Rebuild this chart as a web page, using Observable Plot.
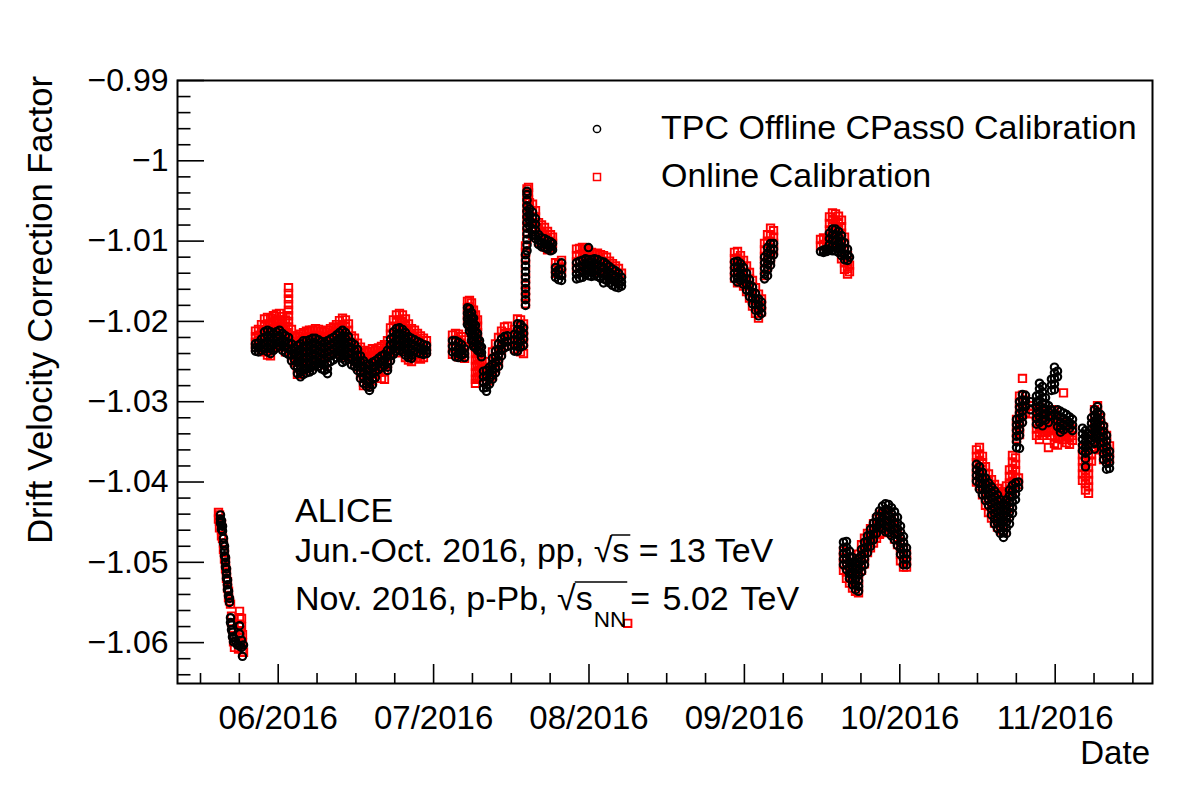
<!DOCTYPE html>
<html><head><meta charset="utf-8">
<script src="https://cdn.jsdelivr.net/npm/d3@7"></script>
<script src="https://cdn.jsdelivr.net/npm/@observablehq/plot@0.6"></script>
<style>html,body{margin:0;padding:0;background:#fff;overflow:hidden}</style>
</head><body>
<script>
// ---- axis ticks (x in days since 2016-05-01) ----
const xMajor = [31, 61.5, 92, 122.5, 153, 183.5];
const xLabels = ["06/2016", "07/2016", "08/2016", "09/2016", "10/2016", "11/2016"];
const xMinor = [15.75, 23.375, 38.625, 46.25, 53.875, 69.125, 76.75, 84.375, 99.625, 107.25, 114.875,
  130.125, 137.75, 145.375, 160.625, 168.25, 175.875, 191.125, 198.75];
const yMajor = [-1.06, -1.05, -1.04, -1.03, -1.02, -1.01, -1.0, -0.99];
const yLabels = ["\u22121.06", "\u22121.05", "\u22121.04", "\u22121.03", "\u22121.02", "\u22121.01", "\u22121", "\u22120.99"];
const yMinor = [-1.064, -1.062, -1.058, -1.056, -1.054, -1.052, -1.048, -1.046, -1.044, -1.042, -1.038, -1.036,
  -1.034, -1.032, -1.028, -1.026, -1.024, -1.022, -1.018, -1.016, -1.014, -1.012, -1.008, -1.006, -1.004, -1.002,
  -0.998, -0.996, -0.994, -0.992];

// ---- TPC Offline CPass0 calibration: [day, [values of the runs of that day]] ----
const offMay = [[19.67,[-1.0441,-1.0446,-1.0451]],[19.87,[-1.0448,-1.0454,-1.0459]],[20.07,[-1.0455,-1.0461]],
  [20.26,[-1.0470,-1.0476]],[20.46,[-1.0480,-1.0486,-1.0492]],[20.66,[-1.0494,-1.0500,-1.0506]],
  [20.85,[-1.0508,-1.0514,-1.0520]],[21.05,[-1.0522,-1.0528,-1.0534]],[21.25,[-1.0536,-1.0542]],[21.44,[-1.0545,-1.0550]],
  [21.64,[-1.0569,-1.0575]],[21.84,[-1.0578,-1.0584]],[22.03,[-1.0587,-1.0593]],[22.23,[-1.0594,-1.0599]],
  [22.62,[-1.0598]],[23.01,[-1.0603]],[23.41,[-1.0579,-1.0589,-1.0604]],[23.80,[-1.0597,-1.0606]],[23.99,[-1.0617]],
  [24.19,[-1.0603]]];
const offJun = [
  [26.54,[-1.0228,-1.0233,-1.0237]],[27.13,[-1.0227,-1.0233,-1.0238]],[27.72,[-1.0222,-1.0229,-1.0236]],
  [28.31,[-1.0213,-1.0220,-1.0227,-1.0234]],[28.90,[-1.0211,-1.0218,-1.0225,-1.0232,-1.0238]],
  [29.49,[-1.0213,-1.0220,-1.0227,-1.0234,-1.0240]],[30.07,[-1.0215,-1.0222,-1.0229,-1.0236]],
  [30.66,[-1.0213,-1.0220,-1.0227,-1.0233]],[31.25,[-1.0211,-1.0218,-1.0225,-1.0231]],
  [31.84,[-1.0215,-1.0222,-1.0229,-1.0236]],[32.43,[-1.0218,-1.0225,-1.0232,-1.0239]],
  [33.02,[-1.0220,-1.0227,-1.0234,-1.0241]],[33.61,[-1.0228,-1.0235,-1.0242,-1.0249]],
  [34.20,[-1.0234,-1.0241,-1.0248,-1.0255]],[34.78,[-1.0230,-1.0237,-1.0244,-1.0251,-1.0258,-1.0265]],
  [35.37,[-1.0228,-1.0235,-1.0242,-1.0249,-1.0256,-1.0263,-1.0269]],
  [35.96,[-1.0224,-1.0231,-1.0238,-1.0245,-1.0252,-1.0259,-1.0266]],
  [36.55,[-1.0224,-1.0231,-1.0238,-1.0245,-1.0252,-1.0259,-1.0264]],
  [37.14,[-1.0223,-1.0230,-1.0237,-1.0244,-1.0251,-1.0258,-1.0263]],
  [37.73,[-1.0221,-1.0228,-1.0235,-1.0242,-1.0249,-1.0256,-1.0261]],
  [38.32,[-1.0221,-1.0228,-1.0235,-1.0242,-1.0249,-1.0255]],[38.90,[-1.0223,-1.0230,-1.0237,-1.0244,-1.0251,-1.0256]],
  [39.49,[-1.0225,-1.0232,-1.0239,-1.0246,-1.0253,-1.0259]],[40.08,[-1.0226,-1.0233,-1.0240,-1.0247,-1.0254,-1.0261]],
  [40.67,[-1.0224,-1.0231,-1.0238,-1.0245,-1.0252,-1.0259,-1.0265]],[41.26,[-1.0222,-1.0229,-1.0236,-1.0243,-1.0250]],
  [41.85,[-1.0220,-1.0227,-1.0234,-1.0241,-1.0248]],[42.44,[-1.0217,-1.0224,-1.0231,-1.0238,-1.0245]],
  [43.03,[-1.0214,-1.0221,-1.0228,-1.0235,-1.0242]],[43.62,[-1.0211,-1.0218,-1.0225,-1.0232,-1.0239,-1.0246,-1.0251]],
  [44.20,[-1.0214,-1.0221,-1.0228,-1.0235,-1.0242,-1.0249]],[44.79,[-1.0219,-1.0226,-1.0233,-1.0240,-1.0247]],
  [45.38,[-1.0226,-1.0233,-1.0240,-1.0247,-1.0254]],[45.97,[-1.0229,-1.0236,-1.0243,-1.0250,-1.0256]],
  [46.56,[-1.0235,-1.0242,-1.0249,-1.0256,-1.0261]],[47.15,[-1.0243,-1.0250,-1.0257,-1.0264,-1.0271]],
  [47.74,[-1.0249,-1.0256,-1.0263,-1.0270,-1.0277]],[48.33,[-1.0253,-1.0260,-1.0267,-1.0274,-1.0281]],
  [48.91,[-1.0254,-1.0261,-1.0268,-1.0275,-1.0282,-1.0286]],[49.50,[-1.0251,-1.0258,-1.0265,-1.0272,-1.0279]],
  [50.09,[-1.0249,-1.0256,-1.0263,-1.0270]],[50.68,[-1.0246,-1.0253,-1.0260]],[51.27,[-1.0243,-1.0250,-1.0257]],
  [51.86,[-1.0241,-1.0248,-1.0255]],[52.45,[-1.0236,-1.0243,-1.0250,-1.0257,-1.0261]],
  [53.04,[-1.0222,-1.0229,-1.0236,-1.0243,-1.0249]],[53.62,[-1.0213,-1.0220,-1.0227,-1.0234,-1.0241]],
  [54.21,[-1.0209,-1.0216,-1.0223,-1.0230,-1.0237]],[54.80,[-1.0208,-1.0215,-1.0222,-1.0229,-1.0236]],
  [55.39,[-1.0210,-1.0217,-1.0224,-1.0231,-1.0238]],[55.98,[-1.0214,-1.0221,-1.0228,-1.0235,-1.0242]],
  [56.57,[-1.0219,-1.0226,-1.0233,-1.0240,-1.0245]],[57.16,[-1.0221,-1.0228,-1.0235,-1.0242,-1.0246]],
  [57.75,[-1.0223,-1.0230,-1.0237]],[58.34,[-1.0225,-1.0232,-1.0239]],[58.92,[-1.0227,-1.0234,-1.0240]],
  [59.51,[-1.0229,-1.0235,-1.0241]],[60.10,[-1.0230,-1.0236,-1.0240]]];
const offJul = [
  [65.21,[-1.0224,-1.0231,-1.0238]],[65.80,[-1.0224,-1.0231,-1.0238,-1.0244]],[66.39,[-1.0226,-1.0233,-1.0240,-1.0245]],
  [66.98,[-1.0229,-1.0236,-1.0242]],[67.57,[-1.0234,-1.0240,-1.0245]],
  [68.15,[-1.0183,-1.0190,-1.0197,-1.0204]],[68.54,[-1.0184,-1.0191,-1.0198,-1.0205,-1.0212]],
  [68.94,[-1.0189,-1.0196,-1.0203,-1.0210,-1.0217,-1.0224]],[69.33,[-1.0196,-1.0203,-1.0210,-1.0217,-1.0224,-1.0231]],
  [69.72,[-1.0205,-1.0212,-1.0219,-1.0226,-1.0233]],[70.12,[-1.0215,-1.0222,-1.0229,-1.0236]],
  [70.51,[-1.0224,-1.0231,-1.0238]],[70.90,[-1.0232,-1.0239,-1.0244]],
  [71.29,[-1.0262,-1.0269,-1.0276,-1.0283]],[71.88,[-1.0261,-1.0268,-1.0275,-1.0282,-1.0287]],
  [72.47,[-1.0257,-1.0264,-1.0271,-1.0278]],[73.06,[-1.0246,-1.0253,-1.0260,-1.0267,-1.0272]],
  [73.65,[-1.0237,-1.0244,-1.0251,-1.0258,-1.0264]],[74.24,[-1.0228,-1.0235,-1.0242,-1.0249,-1.0256]],
  [74.83,[-1.0222,-1.0229,-1.0236,-1.0243]],[75.42,[-1.0219,-1.0226,-1.0233]],[76.01,[-1.0218,-1.0225,-1.0231]],
  [77.38,[-1.0216,-1.0223,-1.0230,-1.0237]],[77.97,[-1.0203,-1.0210,-1.0217,-1.0224,-1.0231,-1.0237]],
  [78.56,[-1.0204,-1.0211,-1.0218,-1.0225,-1.0232]],[79.15,[-1.0208,-1.0215,-1.0222,-1.0230]],
  [79.54,[-1.0180,-1.0173,-1.0166,-1.0159,-1.0152,-1.0145,-1.0138,-1.0131,-1.0124,-1.0117]],
  [79.83,[-1.0112,-1.0105,-1.0098,-1.0091,-1.0084,-1.0077,-1.0070,-1.0063,-1.0056,-1.0049,-1.0042,-1.0038]],
  [80.32,[-1.0060,-1.0067,-1.0074,-1.0081]],[80.92,[-1.0064,-1.0071,-1.0078,-1.0085,-1.0092]],
  [81.50,[-1.0072,-1.0079,-1.0086,-1.0093,-1.0097]],[82.09,[-1.0092,-1.0099,-1.0104]],[82.68,[-1.0096,-1.0103,-1.0107]],
  [83.27,[-1.0097,-1.0104,-1.0108]],[83.86,[-1.0099,-1.0105,-1.0110]],[84.44,[-1.0101,-1.0107,-1.0112]],
  [84.84,[-1.0103,-1.0111]],[85.43,[-1.0133,-1.0139,-1.0145]],[86.02,[-1.0136,-1.0142,-1.0148]],
  [86.61,[-1.0127,-1.0135,-1.0143,-1.0149]]];
const offAug = [
  [89.55,[-1.0127,-1.0134,-1.0141,-1.0147]],[90.14,[-1.0125,-1.0132,-1.0139,-1.0146]],
  [90.72,[-1.0124,-1.0131,-1.0138,-1.0145]],[91.31,[-1.0122,-1.0129,-1.0136,-1.0142]],
  [91.90,[-1.0108,-1.0123,-1.0130,-1.0137,-1.0143]],[92.49,[-1.0123,-1.0130,-1.0137,-1.0144]],
  [93.08,[-1.0122,-1.0129,-1.0136,-1.0143]],[93.67,[-1.0123,-1.0130,-1.0137,-1.0144]],
  [94.26,[-1.0125,-1.0132,-1.0139,-1.0146]],[94.85,[-1.0126,-1.0133,-1.0140,-1.0147,-1.0152]],
  [95.44,[-1.0129,-1.0136,-1.0143,-1.0149]],[96.03,[-1.0132,-1.0139,-1.0146,-1.0152]],
  [96.61,[-1.0135,-1.0142,-1.0149,-1.0155]],[97.20,[-1.0137,-1.0144,-1.0151,-1.0157]],
  [97.79,[-1.0140,-1.0147,-1.0154,-1.0158]],[98.38,[-1.0145,-1.0151,-1.0156]]];
const offSep = [
  [120.56,[-1.0126,-1.0133,-1.0140,-1.0147]],[121.15,[-1.0125,-1.0132,-1.0139,-1.0146,-1.0151]],
  [121.74,[-1.0128,-1.0135,-1.0142,-1.0149]],[122.33,[-1.0133,-1.0140,-1.0147,-1.0154]],
  [122.92,[-1.0140,-1.0147,-1.0154,-1.0161]],[123.50,[-1.0148,-1.0155,-1.0162,-1.0169]],
  [124.09,[-1.0157,-1.0164,-1.0171,-1.0178]],[124.68,[-1.0165,-1.0172,-1.0179,-1.0186]],
  [125.27,[-1.0172,-1.0179,-1.0186,-1.0193]],[125.86,[-1.0176,-1.0183,-1.0190]],
  [126.45,[-1.0120,-1.0127,-1.0134,-1.0141,-1.0147]],[127.04,[-1.0108,-1.0115,-1.0122,-1.0129,-1.0136,-1.0143]],
  [127.63,[-1.0103,-1.0110,-1.0117,-1.0124,-1.0130]],[128.22,[-1.0103,-1.0110,-1.0117]],
  [137.44,[-1.0113]],[138.03,[-1.0111,-1.0114]],[138.62,[-1.0110,-1.0113]],[139.20,[-1.0090,-1.0097,-1.0104,-1.0111]],
  [139.79,[-1.0085,-1.0092,-1.0099,-1.0106,-1.0112]],[140.38,[-1.0085,-1.0092,-1.0099,-1.0106,-1.0112]],
  [140.97,[-1.0088,-1.0095,-1.0102,-1.0109,-1.0114]],[141.56,[-1.0093,-1.0100,-1.0107,-1.0114,-1.0118]],
  [142.15,[-1.0102,-1.0109,-1.0116,-1.0123]],[142.74,[-1.0110,-1.0117,-1.0124]],[143.13,[-1.0120]]];
const offOct = [
  [141.95,[-1.0475,-1.0482,-1.0489,-1.0496,-1.0503]],[142.54,[-1.0474,-1.0481,-1.0488,-1.0495,-1.0502,-1.0509]],
  [143.13,[-1.0486,-1.0493,-1.0500,-1.0507,-1.0514,-1.0520]],[143.72,[-1.0494,-1.0501,-1.0508,-1.0515,-1.0522,-1.0528]],
  [144.31,[-1.0500,-1.0507,-1.0514,-1.0521,-1.0528,-1.0534]],
  [144.90,[-1.0495,-1.0502,-1.0509,-1.0516,-1.0523,-1.0530,-1.0536]],
  [145.49,[-1.0484,-1.0491,-1.0498,-1.0505,-1.0512]],[146.07,[-1.0475,-1.0482,-1.0489,-1.0496,-1.0503]],
  [146.66,[-1.0467,-1.0474,-1.0481,-1.0488]],[147.25,[-1.0459,-1.0466,-1.0473,-1.0480]],
  [147.84,[-1.0451,-1.0458,-1.0465,-1.0472]],[148.43,[-1.0443,-1.0450,-1.0457,-1.0464]],
  [149.02,[-1.0436,-1.0443,-1.0450,-1.0457]],[149.61,[-1.0430,-1.0437,-1.0444,-1.0451,-1.0458]],
  [150.20,[-1.0427,-1.0434,-1.0441,-1.0448,-1.0455,-1.0462]],[150.79,[-1.0428,-1.0435,-1.0442,-1.0449,-1.0456,-1.0463]],
  [151.37,[-1.0432,-1.0439,-1.0446,-1.0453,-1.0460,-1.0467]],[151.96,[-1.0437,-1.0444,-1.0451,-1.0458,-1.0465,-1.0472]],
  [152.55,[-1.0444,-1.0451,-1.0458,-1.0465,-1.0472,-1.0479]],[153.14,[-1.0455,-1.0462,-1.0469,-1.0476,-1.0483,-1.0490]],
  [153.73,[-1.0468,-1.0475,-1.0482,-1.0489,-1.0496,-1.0503]],[154.32,[-1.0482,-1.0489,-1.0496,-1.0503]],
  [168.05,[-1.0378,-1.0385,-1.0392,-1.0399]],[168.64,[-1.0381,-1.0388,-1.0395,-1.0402,-1.0409]],
  [169.23,[-1.0388,-1.0395,-1.0402,-1.0409,-1.0416]],[169.82,[-1.0395,-1.0402,-1.0409,-1.0416,-1.0423]],
  [170.41,[-1.0401,-1.0408,-1.0415,-1.0422,-1.0429]],[171.00,[-1.0406,-1.0413,-1.0420,-1.0427,-1.0434,-1.0441]],
  [171.59,[-1.0411,-1.0418,-1.0425,-1.0432,-1.0439,-1.0446,-1.0452]],
  [172.17,[-1.0416,-1.0423,-1.0430,-1.0437,-1.0444,-1.0451,-1.0458]],
  [172.76,[-1.0422,-1.0429,-1.0436,-1.0443,-1.0450,-1.0457,-1.0464]],
  [173.35,[-1.0428,-1.0435,-1.0442,-1.0449,-1.0456,-1.0463,-1.0469]],
  [173.94,[-1.0422,-1.0429,-1.0436,-1.0443,-1.0450,-1.0457,-1.0464]],
  [174.53,[-1.0410,-1.0417,-1.0424,-1.0431,-1.0438,-1.0445,-1.0452]],
  [175.12,[-1.0404,-1.0411,-1.0418,-1.0425,-1.0432,-1.0439]],[175.71,[-1.0401,-1.0408,-1.0415,-1.0422]],
  [176.30,[-1.0400,-1.0407]]];
const offNov = [
  [175.91,[-1.0322,-1.0329,-1.0336,-1.0343,-1.0350,-1.0357]],
  [176.50,[-1.0300,-1.0307,-1.0314,-1.0321,-1.0328,-1.0335,-1.0342,-1.0358]],
  [177.08,[-1.0291,-1.0298,-1.0305,-1.0312,-1.0319,-1.0326]],[177.67,[-1.0292,-1.0299,-1.0306]],
  [178.65,[-1.0300,-1.0310]],[179.83,[-1.0293,-1.0300,-1.0307,-1.0314,-1.0321,-1.0328]],
  [180.42,[-1.0277,-1.0284,-1.0291,-1.0298,-1.0305,-1.0312,-1.0319,-1.0326]],
  [181.01,[-1.0281,-1.0288,-1.0295,-1.0302,-1.0309,-1.0316,-1.0323,-1.0330]],
  [181.60,[-1.0295,-1.0302,-1.0309,-1.0316,-1.0323]],[182.18,[-1.0305,-1.0312,-1.0319,-1.0326]],
  [182.77,[-1.0272,-1.0279,-1.0286,-1.0310,-1.0317]],[183.36,[-1.0257,-1.0264,-1.0271,-1.0278,-1.0285]],
  [183.95,[-1.0262,-1.0269,-1.0310,-1.0317,-1.0324,-1.0331]],[184.54,[-1.0312,-1.0319,-1.0326,-1.0333,-1.0338]],
  [185.13,[-1.0314,-1.0321,-1.0328,-1.0335]],[185.72,[-1.0316,-1.0323,-1.0330]],[186.31,[-1.0319,-1.0326,-1.0333]],
  [186.90,[-1.0322,-1.0329,-1.0336]],
  [188.86,[-1.0333,-1.0340,-1.0347,-1.0354,-1.0361]],[189.45,[-1.0336,-1.0343,-1.0350,-1.0357,-1.0364,-1.0371,-1.0381]],
  [190.04,[-1.0340,-1.0347,-1.0354,-1.0361]],[190.63,[-1.0320,-1.0327,-1.0334,-1.0341,-1.0348]],
  [191.22,[-1.0310,-1.0317,-1.0324,-1.0331,-1.0338,-1.0345,-1.0352,-1.0359]],
  [191.81,[-1.0306,-1.0313,-1.0320,-1.0327,-1.0334,-1.0341]],[192.40,[-1.0316,-1.0323,-1.0330,-1.0337,-1.0344,-1.0351]],
  [192.99,[-1.0330,-1.0337,-1.0344,-1.0351,-1.0358,-1.0365,-1.0372]],
  [193.58,[-1.0342,-1.0349,-1.0356,-1.0363,-1.0370,-1.0377,-1.0384]],[194.16,[-1.0362,-1.0369,-1.0376,-1.0383]]];

// ---- Online calibration: [day, [values of the runs of that day]] ----
const onMay = [[19.28,[-1.0438,-1.0446]],[19.48,[-1.0441,-1.0449,-1.0457]],[19.87,[-1.0452,-1.0460,-1.0467]],
  [20.07,[-1.0470]],[20.26,[-1.0476,-1.0484]],[20.46,[-1.0488,-1.0496]],[20.66,[-1.0500,-1.0508]],
  [20.85,[-1.0512,-1.0520]],[21.05,[-1.0524,-1.0532]],[21.25,[-1.0536,-1.0544]],[21.44,[-1.0548]],[21.64,[-1.0552]],
  [21.84,[-1.0567,-1.0575]],[22.03,[-1.0583]],[22.23,[-1.0591,-1.0599]],[22.42,[-1.0606]],[23.21,[-1.0608]],
  [23.41,[-1.0561,-1.0569,-1.0577]],[23.60,[-1.0585,-1.0593,-1.0601]],[23.80,[-1.0570,-1.0580]],
  [23.99,[-1.0590,-1.0600,-1.0609]],[24.19,[-1.0612]]];
const onJun = [
  [26.54,[-1.0212,-1.0219,-1.0226,-1.0232]],[27.13,[-1.0210,-1.0217,-1.0224,-1.0231]],
  [27.72,[-1.0204,-1.0212,-1.0220,-1.0228,-1.0236]],[28.31,[-1.0197,-1.0205,-1.0213,-1.0221,-1.0229,-1.0238]],
  [28.90,[-1.0195,-1.0203,-1.0211,-1.0219,-1.0227,-1.0235,-1.0242]],
  [29.49,[-1.0196,-1.0204,-1.0212,-1.0220,-1.0228,-1.0236,-1.0243]],
  [30.07,[-1.0193,-1.0201,-1.0209,-1.0217,-1.0225,-1.0233]],[30.66,[-1.0191,-1.0199,-1.0207,-1.0215,-1.0223,-1.0231]],
  [31.25,[-1.0190,-1.0198,-1.0206,-1.0214,-1.0222]],[31.84,[-1.0194,-1.0202,-1.0210,-1.0218,-1.0226,-1.0232]],
  [32.43,[-1.0198,-1.0206,-1.0214,-1.0222,-1.0230,-1.0238]],
  [33.02,[-1.0158,-1.0165,-1.0172,-1.0179,-1.0186,-1.0193,-1.0200,-1.0207,-1.0214,-1.0221,-1.0228,-1.0236]],
  [33.61,[-1.0210,-1.0218,-1.0226,-1.0234,-1.0242]],[34.20,[-1.0220,-1.0228,-1.0236,-1.0244,-1.0251]],
  [34.78,[-1.0218,-1.0226,-1.0234,-1.0242,-1.0250,-1.0258,-1.0266]],
  [35.37,[-1.0216,-1.0224,-1.0232,-1.0240,-1.0248,-1.0256,-1.0264]],
  [35.96,[-1.0214,-1.0222,-1.0230,-1.0238,-1.0246,-1.0254,-1.0261]],
  [36.55,[-1.0212,-1.0220,-1.0228,-1.0236,-1.0244,-1.0252,-1.0259]],
  [37.14,[-1.0211,-1.0219,-1.0227,-1.0235,-1.0243,-1.0251,-1.0257]],
  [37.73,[-1.0211,-1.0219,-1.0227,-1.0235,-1.0243,-1.0251,-1.0255]],
  [38.32,[-1.0209,-1.0217,-1.0225,-1.0233,-1.0241,-1.0249]],[38.90,[-1.0210,-1.0218,-1.0226,-1.0234,-1.0242,-1.0250]],
  [39.49,[-1.0212,-1.0220,-1.0228,-1.0236,-1.0244,-1.0252]],[40.08,[-1.0213,-1.0221,-1.0229,-1.0237,-1.0245,-1.0254]],
  [40.67,[-1.0211,-1.0219,-1.0227,-1.0235,-1.0242]],[41.26,[-1.0209,-1.0217,-1.0225,-1.0233,-1.0240]],
  [41.85,[-1.0207,-1.0215,-1.0223,-1.0231,-1.0237]],[42.44,[-1.0204,-1.0212,-1.0220,-1.0228,-1.0235]],
  [43.03,[-1.0199,-1.0207,-1.0215,-1.0223,-1.0231,-1.0240]],[43.62,[-1.0196,-1.0204,-1.0212,-1.0220,-1.0228,-1.0236,-1.0242]],
  [44.20,[-1.0198,-1.0206,-1.0214,-1.0222,-1.0230,-1.0238,-1.0245]],[44.79,[-1.0203,-1.0211,-1.0219,-1.0227,-1.0235,-1.0243]],
  [45.38,[-1.0218,-1.0226,-1.0234,-1.0242,-1.0247]],[45.97,[-1.0221,-1.0229,-1.0237,-1.0245,-1.0249]],
  [46.56,[-1.0227,-1.0235,-1.0243,-1.0251,-1.0257]],[47.15,[-1.0232,-1.0240,-1.0248,-1.0256,-1.0264]],
  [47.74,[-1.0236,-1.0244,-1.0252,-1.0260,-1.0268,-1.0276,-1.0280]],[48.33,[-1.0238,-1.0246,-1.0254,-1.0262,-1.0270,-1.0278]],
  [48.91,[-1.0237,-1.0245,-1.0253,-1.0261,-1.0269,-1.0277,-1.0281]],[49.50,[-1.0234,-1.0242,-1.0250,-1.0258,-1.0266,-1.0274]],
  [50.09,[-1.0236,-1.0244,-1.0252,-1.0260,-1.0266]],[50.68,[-1.0233,-1.0241,-1.0249,-1.0257,-1.0263]],
  [51.27,[-1.0231,-1.0239,-1.0247,-1.0255,-1.0263,-1.0271]],[51.86,[-1.0229,-1.0237,-1.0245,-1.0253,-1.0261,-1.0272]],
  [52.45,[-1.0224,-1.0232,-1.0240,-1.0248,-1.0254]],[53.04,[-1.0208,-1.0216,-1.0224,-1.0232,-1.0238]],
  [53.62,[-1.0198,-1.0206,-1.0214,-1.0222,-1.0230,-1.0238]],[54.21,[-1.0192,-1.0200,-1.0208,-1.0216,-1.0224,-1.0232,-1.0239]],
  [54.80,[-1.0190,-1.0198,-1.0206,-1.0214,-1.0222,-1.0230,-1.0234]],[55.39,[-1.0192,-1.0200,-1.0208,-1.0216,-1.0224]],
  [55.98,[-1.0197,-1.0205,-1.0213,-1.0221,-1.0229,-1.0237,-1.0245]],
  [56.57,[-1.0203,-1.0211,-1.0219,-1.0227,-1.0235,-1.0243,-1.0248]],
  [57.16,[-1.0209,-1.0217,-1.0225,-1.0233,-1.0241,-1.0250]],[57.75,[-1.0211,-1.0219,-1.0227,-1.0235,-1.0241]],
  [58.34,[-1.0215,-1.0223,-1.0231,-1.0239,-1.0245]],[58.92,[-1.0218,-1.0226,-1.0234,-1.0242,-1.0247]],
  [59.51,[-1.0221,-1.0229,-1.0237,-1.0245]],[60.10,[-1.0224,-1.0231,-1.0237]]];
const onJul = [
  [65.21,[-1.0217,-1.0225,-1.0233,-1.0241]],[65.80,[-1.0215,-1.0223,-1.0231,-1.0239]],
  [66.39,[-1.0216,-1.0224,-1.0232,-1.0240,-1.0244]],[66.98,[-1.0219,-1.0227,-1.0235,-1.0243]],
  [67.57,[-1.0223,-1.0231,-1.0239,-1.0246]],[68.15,[-1.0175,-1.0183,-1.0191,-1.0199]],
  [68.54,[-1.0174,-1.0182,-1.0190,-1.0198,-1.0206]],[68.94,[-1.0177,-1.0185,-1.0193,-1.0201,-1.0209,-1.0214]],
  [69.33,[-1.0186,-1.0194,-1.0202,-1.0210,-1.0218,-1.0226]],
  [69.72,[-1.0192,-1.0200,-1.0208,-1.0216,-1.0224,-1.0232,-1.0240,-1.0248,-1.0256,-1.0264,-1.0272,-1.0277]],
  [70.12,[-1.0198,-1.0206,-1.0214,-1.0222,-1.0230,-1.0238,-1.0246,-1.0254,-1.0262,-1.0270]],
  [70.51,[-1.0245,-1.0253,-1.0261,-1.0269]],[70.90,[-1.0250,-1.0258,-1.0266]],
  [71.29,[-1.0260,-1.0268,-1.0276]],[71.88,[-1.0257,-1.0265,-1.0273]],[72.47,[-1.0250,-1.0258,-1.0266,-1.0274]],
  [73.06,[-1.0238,-1.0246,-1.0254,-1.0262,-1.0268]],[73.65,[-1.0228,-1.0236,-1.0244,-1.0252,-1.0258]],
  [74.24,[-1.0220,-1.0228,-1.0236,-1.0244,-1.0250]],[74.83,[-1.0212,-1.0220,-1.0228,-1.0236]],
  [75.42,[-1.0207,-1.0215,-1.0223,-1.0231]],[76.01,[-1.0206,-1.0214,-1.0222]],
  [77.38,[-1.0210,-1.0218,-1.0226,-1.0234]],[77.97,[-1.0197,-1.0205,-1.0213,-1.0221,-1.0229,-1.0235]],
  [78.56,[-1.0198,-1.0206,-1.0214,-1.0222,-1.0230,-1.0238]],[79.15,[-1.0203,-1.0211,-1.0219,-1.0227,-1.0240]],
  [79.54,[-1.0178,-1.0170,-1.0162,-1.0154,-1.0146,-1.0138,-1.0130,-1.0122,-1.0114,-1.0106]],
  [79.83,[-1.0098,-1.0090,-1.0082,-1.0074,-1.0066,-1.0058,-1.0050,-1.0042,-1.0035]],
  [80.13,[-1.0033,-1.0040,-1.0048,-1.0056]],
  [80.32,[-1.0052,-1.0060,-1.0068,-1.0076]],[80.92,[-1.0054,-1.0062,-1.0070,-1.0078,-1.0086,-1.0093]],
  [81.50,[-1.0062,-1.0070,-1.0078,-1.0086,-1.0092]],[82.09,[-1.0077,-1.0085,-1.0093,-1.0101]],
  [82.68,[-1.0080,-1.0088,-1.0096,-1.0104]],[83.27,[-1.0083,-1.0091,-1.0099,-1.0107]],
  [83.86,[-1.0088,-1.0096,-1.0104,-1.0111]],[84.44,[-1.0092,-1.0100,-1.0108]],[84.84,[-1.0095,-1.0103]],
  [85.43,[-1.0127,-1.0134,-1.0140]],[86.02,[-1.0129,-1.0136]],[86.61,[-1.0124,-1.0132,-1.0140]]];
const onAug = [
  [89.55,[-1.0110,-1.0118,-1.0126,-1.0134]],[90.14,[-1.0109,-1.0117,-1.0125,-1.0133]],
  [90.72,[-1.0108,-1.0116,-1.0124,-1.0132]],[91.31,[-1.0110,-1.0118,-1.0126,-1.0133]],
  [91.90,[-1.0112,-1.0120,-1.0128,-1.0134]],[92.49,[-1.0114,-1.0122,-1.0130,-1.0135]],
  [93.08,[-1.0116,-1.0124,-1.0132,-1.0137]],[93.67,[-1.0115,-1.0123,-1.0131,-1.0137]],
  [94.26,[-1.0117,-1.0125,-1.0133,-1.0138]],[94.85,[-1.0118,-1.0126,-1.0134,-1.0139]],
  [95.44,[-1.0120,-1.0128,-1.0136,-1.0140]],[96.03,[-1.0125,-1.0133,-1.0141,-1.0146]],
  [96.61,[-1.0128,-1.0136,-1.0143]],[97.20,[-1.0131,-1.0139,-1.0145]],[97.79,[-1.0134,-1.0142]],[98.38,[-1.0140]],
  [99.60,[-1.0576]]];
const onSep = [
  [120.56,[-1.0114,-1.0122,-1.0130,-1.0138,-1.0146]],[121.15,[-1.0113,-1.0121,-1.0129,-1.0137,-1.0145,-1.0152]],
  [121.74,[-1.0118,-1.0126,-1.0134,-1.0142,-1.0150]],[122.33,[-1.0124,-1.0132,-1.0140,-1.0148,-1.0156]],
  [122.92,[-1.0131,-1.0139,-1.0147,-1.0155,-1.0163]],[123.50,[-1.0139,-1.0147,-1.0155,-1.0163,-1.0171]],
  [124.09,[-1.0149,-1.0157,-1.0165,-1.0173,-1.0181]],[124.68,[-1.0158,-1.0166,-1.0174,-1.0182,-1.0190]],
  [125.27,[-1.0166,-1.0174,-1.0182,-1.0190,-1.0196]],[125.86,[-1.0172,-1.0180,-1.0188]],
  [126.45,[-1.0103,-1.0111,-1.0119,-1.0127,-1.0135,-1.0143]],[127.04,[-1.0092,-1.0100,-1.0108,-1.0116,-1.0124,-1.0132]],
  [127.63,[-1.0084,-1.0092,-1.0100,-1.0108,-1.0116,-1.0122]],[128.22,[-1.0087,-1.0095,-1.0103,-1.0111]],
  [137.44,[-1.0098,-1.0106]],[138.03,[-1.0096,-1.0104]],[138.62,[-1.0097,-1.0105]],
  [139.20,[-1.0070,-1.0078,-1.0086,-1.0094,-1.0102]],[139.79,[-1.0065,-1.0073,-1.0081,-1.0089,-1.0097,-1.0104]],
  [140.38,[-1.0066,-1.0074,-1.0082,-1.0090,-1.0098]],[140.97,[-1.0069,-1.0077,-1.0085,-1.0093,-1.0101,-1.0109]],
  [141.56,[-1.0074,-1.0082,-1.0090,-1.0098,-1.0106,-1.0114,-1.0122]],
  [142.15,[-1.0095,-1.0103,-1.0111,-1.0119,-1.0127,-1.0135]],[142.74,[-1.0118,-1.0126,-1.0134,-1.0141]],
  [143.13,[-1.0130,-1.0138]]];
const onOct = [
  [141.95,[-1.0486,-1.0494,-1.0502,-1.0510]],[142.54,[-1.0488,-1.0496,-1.0504,-1.0512,-1.0520]],
  [143.13,[-1.0494,-1.0502,-1.0510,-1.0518,-1.0526]],[143.72,[-1.0500,-1.0508,-1.0516,-1.0524,-1.0532]],
  [144.31,[-1.0504,-1.0512,-1.0520,-1.0528,-1.0536]],[144.90,[-1.0490,-1.0498,-1.0506,-1.0514,-1.0522,-1.0530,-1.0538]],
  [145.49,[-1.0478,-1.0486,-1.0494,-1.0502,-1.0510]],[146.07,[-1.0470,-1.0478,-1.0486,-1.0494,-1.0502]],
  [146.66,[-1.0464,-1.0472,-1.0480,-1.0488]],[147.25,[-1.0458,-1.0466,-1.0474,-1.0482]],
  [147.84,[-1.0452,-1.0460,-1.0468,-1.0476]],[148.43,[-1.0446,-1.0454,-1.0462,-1.0470]],
  [149.02,[-1.0441,-1.0449,-1.0457,-1.0465]],[149.61,[-1.0439,-1.0447,-1.0455,-1.0463]],
  [150.20,[-1.0440,-1.0448,-1.0456]],[150.79,[-1.0443,-1.0451,-1.0459]],[151.37,[-1.0448,-1.0456,-1.0464]],
  [151.96,[-1.0455,-1.0463,-1.0471]],[152.55,[-1.0462,-1.0470,-1.0478]],[153.14,[-1.0474,-1.0482,-1.0490,-1.0498]],
  [153.73,[-1.0484,-1.0492,-1.0500,-1.0506]],[154.32,[-1.0490,-1.0498,-1.0506]],
  [168.05,[-1.0360,-1.0368,-1.0376,-1.0384,-1.0392,-1.0400]],[168.64,[-1.0357,-1.0365,-1.0373,-1.0381,-1.0389,-1.0397,-1.0405]],
  [169.23,[-1.0368,-1.0376,-1.0384,-1.0392,-1.0400,-1.0408,-1.0416]],
  [169.82,[-1.0381,-1.0389,-1.0397,-1.0405,-1.0413,-1.0421,-1.0429]],
  [170.41,[-1.0390,-1.0398,-1.0406,-1.0414,-1.0422,-1.0430,-1.0438]],
  [171.00,[-1.0397,-1.0405,-1.0413,-1.0421,-1.0429,-1.0437,-1.0445]],
  [171.59,[-1.0403,-1.0411,-1.0419,-1.0427,-1.0435,-1.0443,-1.0451]],
  [172.17,[-1.0408,-1.0416,-1.0424,-1.0432,-1.0440,-1.0448,-1.0456]],
  [172.76,[-1.0412,-1.0420,-1.0428,-1.0436,-1.0444,-1.0452,-1.0460]],
  [173.35,[-1.0414,-1.0422,-1.0430,-1.0438,-1.0446,-1.0454,-1.0462]],
  [173.94,[-1.0405,-1.0413,-1.0421,-1.0429,-1.0437,-1.0445]],
  [174.53,[-1.0385,-1.0393,-1.0401,-1.0409,-1.0417,-1.0425,-1.0433]],
  [175.12,[-1.0367,-1.0375,-1.0383,-1.0391,-1.0399,-1.0407,-1.0415]],[175.71,[-1.0370,-1.0378,-1.0386,-1.0394]],
  [176.30,[-1.0395,-1.0403]]];
const onNov = [
  [175.91,[-1.0322,-1.0330,-1.0338,-1.0346]],[176.50,[-1.0293,-1.0301,-1.0309,-1.0317,-1.0325,-1.0333,-1.0341]],
  [177.08,[-1.0271,-1.0292,-1.0300,-1.0308,-1.0316]],[177.67,[-1.0298,-1.0306,-1.0314]],[178.65,[-1.0305,-1.0315]],
  [179.83,[-1.0310,-1.0318,-1.0326,-1.0334,-1.0342]],[180.42,[-1.0307,-1.0315,-1.0323,-1.0331,-1.0339,-1.0347]],
  [181.01,[-1.0310,-1.0318,-1.0326,-1.0334,-1.0342]],[181.60,[-1.0314,-1.0322,-1.0330,-1.0338]],
  [182.18,[-1.0320,-1.0328,-1.0336,-1.0357]],[182.77,[-1.0310,-1.0318,-1.0326,-1.0334,-1.0342]],
  [183.36,[-1.0312,-1.0320,-1.0328,-1.0336,-1.0344,-1.0352]],[183.95,[-1.0322,-1.0330,-1.0338,-1.0346,-1.0354]],
  [184.54,[-1.0328,-1.0336,-1.0344]],[185.13,[-1.0289,-1.0331,-1.0339,-1.0347]],
  [185.72,[-1.0327,-1.0335,-1.0343,-1.0351]],[186.31,[-1.0329,-1.0337,-1.0345,-1.0353]],[186.90,[-1.0334,-1.0342,-1.0348]],
  [188.86,[-1.0358,-1.0366,-1.0374,-1.0382,-1.0390,-1.0398]],
  [189.45,[-1.0362,-1.0370,-1.0378,-1.0386,-1.0394,-1.0402,-1.0410]],
  [190.04,[-1.0366,-1.0374,-1.0382,-1.0390,-1.0398,-1.0406,-1.0414]],[190.63,[-1.0350,-1.0358,-1.0366,-1.0374]],
  [191.22,[-1.0310,-1.0318,-1.0326,-1.0334,-1.0342,-1.0350,-1.0358]],
  [191.81,[-1.0305,-1.0313,-1.0321,-1.0329,-1.0337,-1.0345,-1.0353]],
  [192.40,[-1.0320,-1.0328,-1.0336,-1.0344,-1.0352,-1.0360]],[192.99,[-1.0332,-1.0340,-1.0348,-1.0356,-1.0364,-1.0372]],
  [193.58,[-1.0342,-1.0350,-1.0358,-1.0366,-1.0372]],[194.16,[-1.0355,-1.0363,-1.0371]]];

const flat = segs => segs.flatMap(([day, vs]) => vs.map(value => ({day, value})));
const offline = flat([...offMay, ...offJun, ...offJul, ...offAug, ...offSep, ...offOct, ...offNov]);
const online = flat([...onMay, ...onJun, ...onJul, ...onAug, ...onSep, ...onOct, ...onNov]);

const FONT = '"Liberation Sans", Arial, Helvetica, sans-serif';
const W = 1182, H = 805, ML = 177, MR = 30, MT = 80, MB = 122;
const FW = W - ML - MR, FH = H - MT - MB;

const plot = Plot.plot({
  width: W, height: H,
  marginLeft: ML, marginRight: MR, marginTop: MT, marginBottom: MB,
  x: {type: "linear", domain: [11.236, 202.6], axis: null},
  y: {type: "linear", domain: [-1.06509, -0.99], axis: null},
  style: {background: "white", fontFamily: FONT, fontSize: "33px", color: "black", overflow: "visible"},
  marks: [
    Plot.dot(online, {x: "day", y: "value", symbol: "square", r: 4.2, stroke: "#ff0000", strokeWidth: 1.9, fill: "none"}),
    Plot.dot(offline, {x: "day", y: "value", symbol: "circle", r: 3.7, stroke: "#000", strokeWidth: 2.2, fill: "none"}),
    Plot.ruleX(xMinor, {x: d => d, insetTop: FH - 10, stroke: "#000", strokeWidth: 1.6}),
    Plot.ruleX(xMajor, {x: d => d, insetTop: FH - 19, stroke: "#000", strokeWidth: 1.6}),
    Plot.ruleY(yMinor, {y: d => d, insetRight: FW - 13.5, stroke: "#000", strokeWidth: 1.6}),
    Plot.ruleY(yMajor, {y: d => d, insetRight: FW - 27, stroke: "#000", strokeWidth: 1.6}),
    Plot.axisX(xMajor, {anchor: "bottom", tickSize: 0, tickPadding: 22, label: null, fontSize: 33,
      tickFormat: d => xLabels[xMajor.indexOf(d)]}),
    Plot.axisY(yMajor, {anchor: "left", tickSize: 0, tickPadding: 9, label: null, fontSize: 32,
      tickFormat: d => yLabels[yMajor.indexOf(d)]}),
    Plot.frame({stroke: "#000", strokeWidth: 2})
  ]
});
document.body.appendChild(plot);

const svg = d3.select(plot);
const g = svg.append("g").attr("font-family", FONT).attr("fill", "#000");
function tx(x, y, str, size = 34, anchor = "start") {
  return g.append("text").attr("x", x).attr("y", y).attr("text-anchor", anchor)
    .attr("font-size", size).style("white-space", "pre").text(str);
}
const len = t => t.node().getComputedTextLength();

// axis titles
g.append("text").attr("transform", "translate(52,76) rotate(-90)").attr("text-anchor", "end")
  .attr("font-size", 34.5).text("Drift Velocity Correction Factor");
tx(1150, 764, "Date", 33, "end");

// legend
g.append("circle").attr("cx", 597).attr("cy", 129).attr("r", 3.6).attr("fill", "none").attr("stroke", "#000").attr("stroke-width", 1.5);
g.append("rect").attr("x", 593.5).attr("y", 173.5).attr("width", 7).attr("height", 7).attr("fill", "none").attr("stroke", "#ff0000").attr("stroke-width", 1.5);
tx(661, 139, "TPC Offline CPass0 Calibration");
tx(661, 187, "Online Calibration");

// ALICE block
tx(295, 522, "ALICE");
{
  let x = 295, b = 562;
  let t = tx(x, b, "Jun.-Oct. 2016, pp, "); x += len(t);
  t = tx(x, b, "\u221A"); x += len(t);
  const sx = x;
  t = tx(x, b, "s"); x += len(t);
  g.append("line").attr("x1", sx - 1).attr("x2", x + 1).attr("y1", b - 27).attr("y2", b - 27).attr("stroke", "#000").attr("stroke-width", 1.5);
  tx(x, b, " = 13 TeV");
}
{
  let x = 295, b = 610;
  let t = tx(x, b, "Nov. 2016, p-Pb, "); x += len(t);
  t = tx(x, b, "\u221A"); x += len(t);
  const sx = x;
  t = tx(x, b, "s"); x += len(t);
  t = tx(x + 1, b + 17, "NN", 22.5); x += len(t) + 1;
  g.append("line").attr("x1", sx - 1).attr("x2", x + 1).attr("y1", b - 28).attr("y2", b - 28).attr("stroke", "#000").attr("stroke-width", 1.5);
  tx(x + 4, b, "= 5.02 TeV").style("word-spacing", "3px");
}
</script>
</body></html>
